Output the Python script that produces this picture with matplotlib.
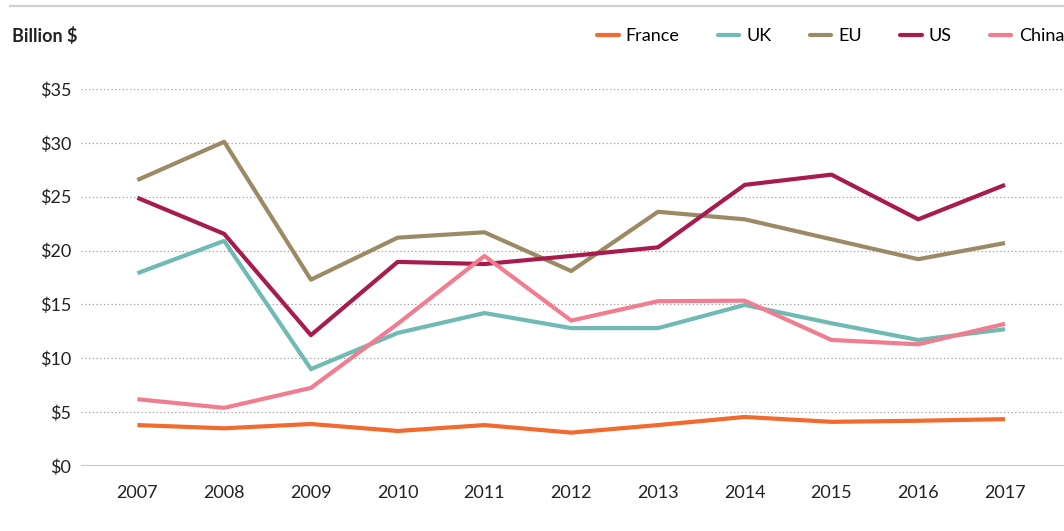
import matplotlib.pyplot as plt
from matplotlib.lines import Line2D

plt.rcParams['font.family'] = ['Lato', 'DejaVu Sans']

years = [2007, 2008, 2009, 2010, 2011, 2012, 2013, 2014, 2015, 2016, 2017]
france = [3.8, 3.5, 3.9, 3.25, 3.8, 3.1, 3.8, 4.55, 4.1, 4.2, 4.35]
uk = [17.9, 20.9, 9.0, 12.35, 14.2, 12.8, 12.8, 14.95, 13.25, 11.7, 12.7]
eu = [26.55, 30.1, 17.3, 21.2, 21.7, 18.1, 23.6, 22.9, 21.05, 19.2, 20.7]
us = [24.9, 21.55, 12.15, 18.95, 18.75, 19.5, 20.3, 26.1, 27.05, 22.9, 26.1]
china = [6.2, 5.4, 7.25, 13.2, 19.5, 13.5, 15.3, 15.35, 11.7, 11.3, 13.2]

names = ['France', 'UK', 'EU', 'US', 'China']
colours = ['#f26a2e', '#6fbab3', '#9c8a64', '#a81b4e', '#f07d90']
yTicks = [0, 5, 10, 15, 20, 25, 30, 35]

fig = plt.figure(figsize=(10.64, 5.31), dpi=100)
ax = fig.add_axes([81 / 1064, 1 - 466 / 531, 1 - 81 / 1064, (466 - 89) / 531])

for series, colour in zip([france, uk, eu, us, china], colours):
    ax.plot(years, series, color=colour, linewidth=3, solid_capstyle='butt', zorder=3)

ax.set_xlim(2006.35, 2017.68)
ax.set_ylim(0, 35)
ax.set_xticks(years)
ax.set_yticks(yTicks)
ax.set_yticklabels(['$' + str(v) for v in yTicks])
ax.tick_params(axis='both', length=0, labelsize=13, colors='#222222')
ax.tick_params(axis='y', pad=7)
ax.tick_params(axis='x', pad=14)
for v in yTicks[1:]:
    ax.axhline(v, color='#a0a0a0', linewidth=0.9, linestyle=(0, (1, 2)), zorder=1)
ax.axhline(0, color='#c8c8c8', linewidth=1.5, zorder=1)
for side in ax.spines.values():
    side.set_visible(False)

# rule along the top and the unit label
fig.add_artist(Line2D([10 / 1064, 1], [1 - 6 / 531, 1 - 6 / 531], color='#d0d0d0', linewidth=1.6))
fig.text(12 / 1064, 1 - 36 / 531, 'Billion $', fontsize=13, fontweight='bold', color='#222222', va='center')

handles = [Line2D([], [], color=c, linewidth=3, solid_capstyle='round') for c in colours]
fig.legend(handles, names, loc='center right', bbox_to_anchor=(1.0, 1 - 36 / 531), ncol=5, frameon=False,
           fontsize=13, handlelength=1.2, handletextpad=0.4, columnspacing=2.1, borderaxespad=0, borderpad=0)

fig.savefig('out.png', dpi=100)
